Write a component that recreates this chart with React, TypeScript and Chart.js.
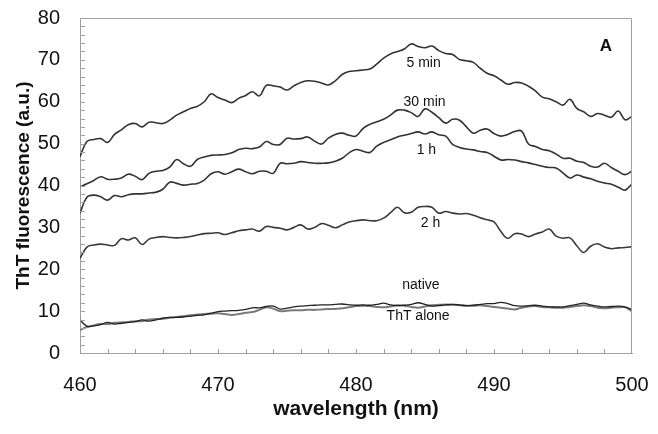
import React, { useEffect, useRef } from "react";
import { Chart, registerables } from "chart.js";

Chart.register(...registerables);

// Wavelength grid (nm)
const wavelengths = [
  460, 460.5, 461, 461.5, 462, 462.5, 463, 463.5, 464, 464.5,
  465, 465.5, 466, 466.5, 467, 467.5, 468, 468.5, 469, 469.5,
  470, 470.5, 471, 471.5, 472, 472.5, 473, 473.5, 474, 474.5,
  475, 475.5, 476, 476.5, 477, 477.5, 478, 478.5, 479, 479.5,
  480, 480.5, 481, 481.5, 482, 482.5, 483, 483.5, 484, 484.5,
  485, 485.5, 486, 486.5, 487, 487.5, 488, 488.5, 489, 489.5,
  490, 490.5, 491, 491.5, 492, 492.5, 493, 493.5, 494, 494.5,
  495, 495.5, 496, 496.5, 497, 497.5, 498, 498.5, 499, 499.5,
  500,
];

const min5 = [
  46.9, 50.5, 51.0, 51.2, 50.3, 52.2, 53.3, 54.5, 54.8, 54.0,
  55.1, 55.0, 54.8, 55.6, 56.8, 57.6, 58.4, 58.9, 60.0, 61.9,
  61.0, 60.4, 59.8, 60.8, 61.5, 62.4, 61.4, 63.9, 63.8, 63.5,
  62.8, 63.8, 64.6, 65.0, 64.9, 64.5, 64.0, 65.0, 66.5, 67.2,
  67.4, 67.6, 67.8, 69.0, 70.4, 71.4, 72.0, 72.6, 73.8, 73.2,
  72.9, 73.3, 72.2, 71.5, 71.3, 70.1, 69.8, 69.4, 68.0, 66.8,
  66.2, 65.2, 64.2, 64.6, 64.5, 63.7, 62.6, 61.1, 60.7, 60.0,
  59.2, 60.6, 58.4, 57.6, 56.5, 57.2, 56.8, 56.3, 57.8, 55.7,
  56.5,
];

const min30 = [
  39.7, 40.4, 41.2, 42.1, 41.5, 41.5, 41.8, 42.7, 42.2, 41.4,
  42.9, 43.4, 43.6, 44.4, 46.2, 45.2, 44.6, 46.2, 46.8, 47.2,
  47.3, 47.4, 47.8, 48.6, 48.9, 48.8, 49.2, 50.5, 49.8, 49.8,
  51.3, 51.1, 51.2, 51.6, 50.6, 49.9, 51.3, 52.2, 52.5, 52.0,
  51.8, 53.6, 54.6, 55.2, 55.8, 56.8, 58.0, 58.0, 57.4, 56.5,
  58.3, 57.5, 56.2, 54.9, 55.8, 55.6, 54.0, 52.5, 53.2, 53.5,
  52.4, 51.8, 52.2, 52.9, 53.0, 49.9, 49.3, 48.6, 48.3, 47.5,
  46.5, 46.5, 45.8, 45.5, 44.6, 44.4, 45.3, 44.3, 43.4, 42.6,
  43.5,
];

const hour1 = [
  33.4, 37.2, 37.7, 37.3, 36.5, 37.6, 37.3, 37.8, 38.0, 38.0,
  38.2, 38.4, 39.1, 40.8, 40.5, 40.1, 40.3, 40.5, 41.3, 42.8,
  43.3, 42.7, 43.3, 43.9, 43.3, 42.8, 43.4, 43.4, 42.9, 45.3,
  45.2, 45.3, 45.7, 45.5, 45.3, 45.3, 45.4, 45.8, 46.5, 47.8,
  48.6, 48.2, 47.9, 49.4, 50.3, 50.9, 51.6, 52.0, 52.4, 52.8,
  52.3, 52.8, 52.1, 51.8, 49.8, 49.1, 48.7, 48.5, 48.1, 47.9,
  47.0, 46.1, 46.2, 46.1, 45.7, 45.4, 45.0, 44.6, 44.3, 44.2,
  43.0, 41.8, 42.5, 42.0, 41.6, 41.0, 40.6, 40.3, 39.6, 38.9,
  40.4,
];

const hour2 = [
  22.6, 25.3, 25.8, 26.0, 25.8, 25.7, 27.3, 27.0, 27.5, 25.9,
  27.2, 27.6, 27.8, 27.6, 27.5, 27.6, 27.8, 28.2, 28.5, 28.6,
  28.7, 28.3, 28.7, 29.2, 29.4, 29.6, 29.1, 30.2, 30.0, 29.8,
  29.4, 30.0, 30.6, 29.6, 30.0, 30.9, 30.5, 29.9, 30.6, 31.3,
  31.6, 31.8, 31.6, 31.6, 32.2, 33.5, 34.8, 33.5, 33.6, 34.8,
  35.0, 34.8, 33.4, 33.8, 33.4, 33.2, 33.3, 32.9, 32.3, 31.8,
  31.3, 29.0, 27.4, 28.5, 28.4, 27.8, 28.4, 28.9, 29.6, 27.9,
  27.4, 27.5, 25.6, 24.0, 25.5, 26.1, 25.3, 24.9, 25.1, 25.2,
  25.4,
];

const nativeProtein = [
  7.9, 6.4, 6.5, 6.8, 7.3, 6.9, 7.1, 7.3, 7.5, 7.9,
  7.6, 7.9, 8.3, 8.5, 8.5, 8.6, 8.8, 9.0, 9.1, 9.5,
  9.9, 10.0, 10.1, 10.2, 10.4, 10.8, 10.8, 11.1, 11.2, 10.5,
  10.7, 11.0, 11.2, 11.3, 11.4, 11.5, 11.5, 11.6, 11.7, 11.5,
  11.4, 11.5, 11.4, 11.6, 11.9, 11.5, 11.3, 11.4, 11.6, 12.0,
  11.6, 11.2, 11.3, 11.5, 11.6, 11.5, 11.3, 11.4, 11.6, 11.8,
  11.8, 12.1, 11.8, 11.3, 11.2, 11.3, 11.4, 11.2, 11.0, 11.0,
  11.0, 11.3, 11.6, 11.9, 11.5, 11.2, 11.0, 11.1, 11.2, 11.0,
  10.3,
];

const thtAlone = [
  5.5, 6.2, 6.6, 6.9, 6.9, 7.2, 7.3, 7.4, 7.6, 7.6,
  8.0, 8.1, 8.2, 8.4, 8.6, 8.8, 9.0, 9.2, 9.3, 9.4,
  9.5, 9.3, 9.1, 9.3, 9.6, 9.8, 10.3, 10.9, 10.6, 10.0,
  10.1, 10.2, 10.2, 10.3, 10.3, 10.4, 10.5, 10.5, 10.7, 10.9,
  11.2, 11.3, 11.2, 11.0, 10.9, 11.1, 11.4, 11.3, 11.0, 10.8,
  11.1, 11.4, 11.5, 11.6, 11.5, 11.4, 11.3, 11.3, 11.4, 11.2,
  11.0, 10.8, 10.6, 10.4, 10.8, 11.1, 11.2, 11.0, 10.9, 10.8,
  10.8, 11.0, 11.2, 11.4, 11.2, 10.8, 10.7, 10.8, 10.9, 10.9,
  10.0,
];

// In-plot curve labels (text, wavelength, fluorescence)
const curveLabelText = ["5 min", "30 min", "1 h", "2 h", "native", "ThT alone"];
const curveLabelX = [484.9, 484.97, 485.1, 485.4, 484.7, 484.5];
const curveLabelY = [69.2, 59.8, 48.5, 31.0, 16.2, 8.7];
const panelLetter = "A";
const panelLetterX = 498.1;
const panelLetterY = 73.3;

const X_MIN = 460;
const X_MAX = 500;
const Y_MIN = 0;
const Y_MAX = 80;
const X_MINOR_STEP = 2;
const Y_MINOR_STEP = 2;

const FONT = "'Liberation Sans', Arial, Helvetica, sans-serif";

const framePlugin = {
  id: "frameAndMinorTicks",
  afterDatasetsDraw(chart: any) {
    const { ctx, chartArea: a, scales } = chart;
    const x = scales.x;
    const y = scales.y;
    ctx.save();
    ctx.strokeStyle = "#a0a0a0";
    ctx.lineWidth = 1;
    ctx.beginPath();
    ctx.moveTo(a.left, a.top + 0.5);
    ctx.lineTo(a.right - 0.5, a.top + 0.5);
    ctx.lineTo(a.right - 0.5, a.bottom);
    ctx.stroke();
    ctx.beginPath();
    for (let v = Y_MIN + Y_MINOR_STEP; v <= Y_MAX; v += Y_MINOR_STEP) {
      const py = Math.round(y.getPixelForValue(v)) + 0.5;
      ctx.moveTo(a.left, py);
      ctx.lineTo(a.left + 5, py);
    }
    for (let w = X_MIN + X_MINOR_STEP; w < X_MAX; w += X_MINOR_STEP) {
      const px = Math.round(x.getPixelForValue(w)) + 0.5;
      ctx.moveTo(px, a.bottom);
      ctx.lineTo(px, a.bottom - 4);
    }
    ctx.stroke();

    ctx.fillStyle = "#111";
    ctx.textAlign = "center";
    ctx.textBaseline = "middle";
    ctx.font = `14px ${FONT}`;
    curveLabelText.forEach((t, i) => {
      ctx.fillText(t, x.getPixelForValue(curveLabelX[i]), y.getPixelForValue(curveLabelY[i]));
    });
    ctx.font = `bold 17px ${FONT}`;
    ctx.fillText(panelLetter, x.getPixelForValue(panelLetterX), y.getPixelForValue(panelLetterY));
    ctx.restore();
  },
};

export default function App() {
  const ref = useRef<HTMLCanvasElement | null>(null);

  useEffect(() => {
    document.body.style.margin = "0";
    const canvas = ref.current;
    if (!canvas) return;
    const dark = "#333333";
    const chart = new Chart(canvas, {
      type: "line",
      data: {
        labels: wavelengths,
        datasets: [
          { label: "5 min", data: min5, borderColor: dark, borderWidth: 1.6 },
          { label: "30 min", data: min30, borderColor: dark, borderWidth: 1.6 },
          { label: "1 h", data: hour1, borderColor: dark, borderWidth: 1.6 },
          { label: "2 h", data: hour2, borderColor: "#3a3a3a", borderWidth: 1.6 },
          { label: "native", data: nativeProtein, borderColor: "#222222", borderWidth: 1.3 },
          { label: "ThT alone", data: thtAlone, borderColor: "#7a7a7a", borderWidth: 2 },
        ].map((d) => ({ ...d, pointRadius: 0, tension: 0.4, fill: false })),
      },
      options: {
        responsive: false,
        animation: false,
        events: [],
        layout: { autoPadding: false, padding: { top: 18, right: 26, left: 0, bottom: 0 } },
        plugins: { legend: { display: false }, tooltip: { enabled: false } },
        scales: {
          x: {
            type: "linear",
            min: X_MIN,
            max: X_MAX,
            afterFit: (s: any) => {
              s.height = 81;
              s.paddingLeft = 0;
              s.paddingRight = 0;
            },
            ticks: {
              stepSize: 10,
              color: "#111",
              padding: 20,
              maxRotation: 0,
              font: { family: FONT, size: 20 },
            },
            grid: { drawOnChartArea: false, drawTicks: false },
            border: { color: "#a0a0a0" },
            title: {
              display: true,
              text: "wavelength (nm)",
              color: "#111",
              font: { family: FONT, size: 21, weight: "bold" },
              padding: { top: 0, bottom: 12 },
            },
          },
          y: {
            min: Y_MIN,
            max: Y_MAX,
            afterFit: (s: any) => {
              s.width = 80;
              s.paddingTop = 0;
              s.paddingBottom = 0;
            },
            ticks: {
              stepSize: 10,
              color: "#111",
              padding: 20,
              font: { family: FONT, size: 20 },
            },
            grid: { drawOnChartArea: false, drawTicks: false },
            border: { color: "#a0a0a0" },
            title: {
              display: true,
              text: "ThT fluorescence (a.u.)",
              color: "#111",
              font: { family: FONT, size: 19, weight: "bold" },
              padding: { top: 12, bottom: 0 },
            },
          },
        },
      },
      plugins: [framePlugin],
    });
    return () => chart.destroy();
  }, []);

  return (
    <div style={{ width: 658, height: 434 }}>
      <canvas ref={ref} width={658} height={434} style={{ display: "block" }} />
    </div>
  );
}
